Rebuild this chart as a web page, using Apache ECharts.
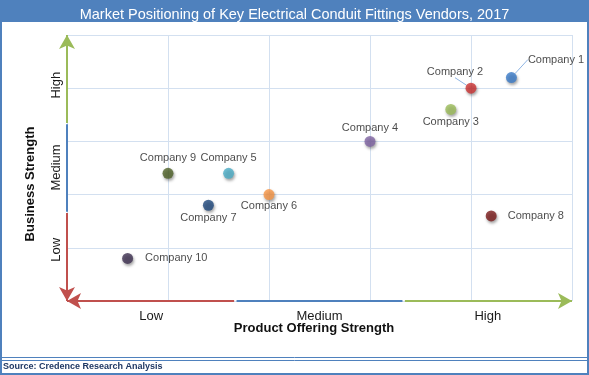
<!DOCTYPE html>
<html>
<head>
<meta charset="utf-8">
<title>Market Positioning</title>
<script src="https://cdn.jsdelivr.net/npm/echarts@6/dist/echarts.min.js"></script>
<style>
    html, body { margin: 0; padding: 0; background: #fff; }
    #chart { width: 589px; height: 375px; }
</style>
</head>
<body>
<div id="chart"></div>
<script>
// data
const companies = ['Company 1', 'Company 2', 'Company 3', 'Company 4', 'Company 5',
    'Company 6', 'Company 7', 'Company 8', 'Company 9', 'Company 10'];
const productStrength = [4.4, 4.0, 3.8, 3.0, 1.6, 2.0, 1.4, 4.2, 1.0, 0.6];
const businessStrength = [4.2, 4.0, 3.6, 3.0, 2.4, 2.0, 1.8, 1.6, 2.4, 0.8];
const xLevels = ['Low', 'Medium', 'High'];
const yLevels = ['Low', 'Medium', 'High'];
const scaleMin = 0;
const scaleMax = 5;
const scaleStep = 1;

// styling
const pointColors = ['#3a7bc8', '#cc3333', '#9bbb59', '#8064a2', '#4bacc6',
    '#f79646', '#1f497d', '#7b1c1c', '#4f6228', '#3f3151'];
const labelPlace = [
    { pos: 'right', dist: 5, move: [6, -18], line: true },
    { pos: 'top', dist: 5, move: [-16, 0], line: true },
    { pos: 'bottom', dist: 1, off: [10, 0] },
    { pos: 'top', dist: 2, off: [13, 0] },
    { pos: 'top', dist: 4, off: [23, 0] },
    { pos: 'bottom', dist: 0, off: [13, 0] },
    { pos: 'bottom', dist: 2, off: [7, 0] },
    { pos: 'right', dist: 11 },
    { pos: 'top', dist: 4, off: [7, 0] },
    { pos: 'right', dist: 12 },
];
const RED = '#c0504d', BLUE = '#4f81bd', GREEN = '#9bbb59';
const regular = '"Liberation Sans", Arial, sans-serif';

const myChart = echarts.init(document.getElementById('chart'));

const points = companies.map((name, i) => ({
    name: name,
    value: [productStrength[i], businessStrength[i]],
    itemStyle: { color: pointColors[i] },
    label: {
        position: labelPlace[i].pos,
        distance: labelPlace[i].dist,
        offset: labelPlace[i].off || [0, 0],
    },
    labelLine: { show: !!labelPlace[i].line },
}));

// three coloured pieces per axis, arrows at the outer ends
const third = (scaleMax - scaleMin) / 3;
const gap = 0.012;
const seg = (a, b, color, symA, symB) => [
    { coord: a, symbol: symA, lineStyle: { color: color } },
    { coord: b, symbol: symB },
];
const axisArrows = [
    seg([scaleMin, scaleMin], [scaleMin + third - gap, scaleMin], RED, 'arrow', 'none'),
    seg([scaleMin + third + gap, scaleMin], [scaleMin + 2 * third - gap, scaleMin], BLUE, 'none', 'none'),
    seg([scaleMin + 2 * third + gap, scaleMin], [scaleMax, scaleMin], GREEN, 'none', 'arrow'),
    seg([scaleMin, scaleMin], [scaleMin, scaleMin + third - gap], RED, 'arrow', 'none'),
    seg([scaleMin, scaleMin + third + gap], [scaleMin, scaleMin + 2 * third - gap], BLUE, 'none', 'none'),
    seg([scaleMin, scaleMin + 2 * third + gap], [scaleMin, scaleMax], GREEN, 'none', 'arrow'),
];

const gridLine = { show: true, lineStyle: { color: '#d3e0f0', width: 1 } };

let option = {
    animation: false,
    title: {
        text: 'Market Positioning of Key Electrical Conduit Fittings Vendors, 2017',
        left: 'center',
        top: 2,
        textStyle: { color: '#fff', fontSize: 14.5, fontWeight: 'normal', fontFamily: regular },
    },
    grid: [
        { left: 67, right: 17, top: 35, bottom: 74 },
        { left: 67, right: 17, top: 44, bottom: 84 },   // only carries the y level labels
    ],
    xAxis: [
        {
            type: 'value', gridIndex: 0, min: scaleMin, max: scaleMax, interval: scaleStep,
            axisLine: { show: false }, axisTick: { show: false }, axisLabel: { show: false },
            splitLine: gridLine,
        },
        {
            type: 'category', gridIndex: 0, data: xLevels, position: 'bottom',
            axisLine: { show: false }, axisTick: { show: false },
            axisLabel: { margin: 9, color: '#1a1a1a', fontSize: 13, fontFamily: regular },
        },
        { type: 'value', gridIndex: 1, show: false },
    ],
    yAxis: [
        {
            type: 'value', gridIndex: 0, min: scaleMin, max: scaleMax, interval: scaleStep,
            axisLine: { show: false }, axisTick: { show: false }, axisLabel: { show: false },
            splitLine: gridLine,
        },
        {
            type: 'category', gridIndex: 1, data: yLevels, position: 'left',
            axisLine: { show: false }, axisTick: { show: false }, splitLine: { show: false },
            axisLabel: { rotate: 90, margin: 4, color: '#1a1a1a', fontSize: 13, fontFamily: regular },
        },
    ],
    graphic: [
        { type: 'rect', shape: { x: 0, y: 0, width: 589, height: 22 }, style: { fill: BLUE }, z: -1 },
        { type: 'rect', shape: { x: 1, y: 1, width: 587, height: 373 }, style: { fill: 'none', stroke: BLUE, lineWidth: 2 } },
        { type: 'line', shape: { x1: 0, y1: 357.5, x2: 589, y2: 357.5 }, style: { stroke: BLUE, lineWidth: 1 } },
        { type: 'line', shape: { x1: 0, y1: 360.5, x2: 589, y2: 360.5 }, style: { stroke: BLUE, lineWidth: 1 } },
        {
            type: 'text', left: 3, top: 362,
            style: { text: 'Source: Credence Research Analysis', fill: '#1f3864', font: 'bold 9px ' + regular },
        },
        {
            type: 'text', x: 314, y: 328,
            style: { text: 'Product Offering Strength', fill: '#111', font: 'bold 13px ' + regular, align: 'center', verticalAlign: 'middle' },
        },
        {
            type: 'text', x: 30, y: 184, rotation: Math.PI / 2,
            style: { text: 'Business Strength', fill: '#111', font: 'bold 13px ' + regular, align: 'center', verticalAlign: 'middle' },
        },
    ],
    series: [
        {
            type: 'scatter',
            xAxisIndex: 0,
            yAxisIndex: 0,
            symbolSize: 11,
            itemStyle: {
                shadowBlur: 3,
                shadowColor: 'rgba(0, 0, 0, 0.45)',
                shadowOffsetX: 1,
                shadowOffsetY: 2,
            },
            label: {
                show: true,
                formatter: '{b}',
                color: '#1a1a1a',
                fontSize: 11,
                fontFamily: regular,
            },
            labelLine: { lineStyle: { color: '#8eb4e3', width: 1 } },
            labelLayout: function (params) {
                const p = labelPlace[params.dataIndex];
                return p && p.move ? { dx: p.move[0], dy: p.move[1] } : {};
            },
            emphasis: { disabled: true },
            data: points,
            markLine: {
                silent: true,
                symbolSize: [12, 14],
                label: { show: false },
                emphasis: { disabled: true },
                lineStyle: { type: 'solid', width: 2 },
                data: axisArrows,
            },
        },
    ],
};

myChart.setOption(option);
window.addEventListener('resize', () => {
    myChart.resize();
});
</script>
</body>
</html>
